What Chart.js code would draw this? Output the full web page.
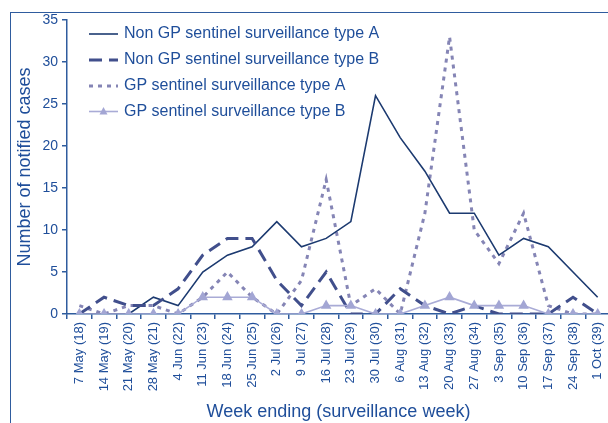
<!DOCTYPE html>
<html>
<head>
<meta charset="utf-8">
<script src="https://cdn.jsdelivr.net/npm/chart.js@4"></script>
<style>
  html, body { margin: 0; padding: 0; background: #fff; overflow: hidden; }
  #wrap { position: relative; width: 608px; height: 423px; overflow: hidden; }
  #frame { position: absolute; left: 10px; top: 12px; right: -2px; bottom: -2px;
           border-top: 1px solid #2f5c9e; border-left: 1px solid #2f5c9e; }
  canvas { position: absolute; left: 0; top: 0; }
</style>
</head>
<body>
<div id="wrap">
  <div id="frame"></div>
  <canvas id="chart" width="620" height="423"></canvas>
</div>
<script>
const weeks = ['7 May (18)', '14 May (19)', '21 May (20)', '28 May (21)', '4 Jun (22)', '11 Jun (23)',
  '18 Jun (24)', '25 Jun (25)', '2 Jul (26)', '9 Jul (27)', '16 Jul (28)', '23 Jul (29)', '30 Jul (30)',
  '6 Aug (31)', '13 Aug (32)', '20 Aug (33)', '27 Aug (34)', '3 Sep (35)', '10 Sep (36)', '17 Sep (37)',
  '24 Sep (38)', '1 Oct (39)'];

const nonGpA = [0, 0, 0, 2, 1, 5, 7, 8, 11, 8, 9, 11, 26, 21, 17, 12, 12, 7, 9, 8, 5, 2];
const nonGpB = [0, 2, 1, 1, 3, 7, 9, 9, 4, 1, 5, 0, 0, 3, 1, 0, 1, 0, 0, 0, 2, 0];
const gpA    = [1, 0, 1, 1, 0, 2, 5, 2, 0, 4, 16, 1, 3, 0, 12, 33, 10, 6, 12, 1, 0, 0];
const gpB    = [0, 0, 0, 0, 0, 2, 2, 2, 0, 0, 1, 1, 0, 0, 1, 2, 1, 1, 1, 0, 0, 0];

const yTicks = [0, 5, 10, 15, 20, 25, 30, 35];

const textBlue = '#1f4e9a';
const axisBlue = '#2f5c9e';
const font = 'Liberation Sans, Arial, sans-serif';

// legend drawn inside the plot, like the original
const insideLegend = {
  id: 'insideLegend',
  afterDraw(chart) {
    const ctx = chart.ctx;
    const rows = [34, 60, 86, 111.5];
    ctx.save();
    chart.data.datasets.forEach((ds, i) => {
      const y = rows[i];
      ctx.beginPath();
      ctx.setLineDash(ds.borderDash || []);
      ctx.lineWidth = ds.borderWidth;
      ctx.strokeStyle = ds.borderColor;
      ctx.moveTo(89, y);
      ctx.lineTo(118, y);
      ctx.stroke();
      ctx.setLineDash([]);
      if (ds.pointStyle === 'triangle') {
        ctx.fillStyle = ds.pointBackgroundColor;
        ctx.beginPath();
        ctx.moveTo(103.5, y - 4.5);
        ctx.lineTo(107.5, y + 3);
        ctx.lineTo(99.5, y + 3);
        ctx.closePath();
        ctx.fill();
      }
      ctx.fillStyle = textBlue;
      ctx.font = '16px ' + font;
      ctx.textBaseline = 'middle';
      ctx.fillText(ds.label, 124, y);
    });
    ctx.restore();
  }
};

new Chart(document.getElementById('chart'), {
  type: 'line',
  data: {
    labels: weeks,
    datasets: [
      {
        label: 'Non GP sentinel surveillance type A',
        data: nonGpA,
        borderColor: '#1c3a70',
        borderWidth: 1.6,
        pointRadius: 0,
        order: 3,
      },
      {
        label: 'Non GP sentinel surveillance type B',
        data: nonGpB,
        borderColor: '#414f8c',
        borderWidth: 3,
        borderDash: [13, 7],
        pointRadius: 0,
        order: 2,
      },
      {
        label: 'GP sentinel surveillance type A',
        data: gpA,
        borderColor: '#8585b5',
        borderWidth: 3,
        borderDash: [4, 5],
        pointRadius: 0,
        order: 4,
      },
      {
        label: 'GP sentinel surveillance type B',
        data: gpB,
        borderColor: '#a9abd6',
        borderWidth: 1.6,
        pointStyle: 'triangle',
        pointRadius: 4.5,
        pointBackgroundColor: '#a3a6d4',
        pointBorderColor: '#a3a6d4',
        order: 1,
      },
    ],
  },
  options: {
    responsive: false,
    animation: false,
    devicePixelRatio: 1,
    layout: { padding: { top: 20, right: 10, left: 0, bottom: 0 } },
    plugins: {
      legend: { display: false },
      tooltip: { enabled: false },
    },
    elements: { line: { tension: 0 } },
    scales: {
      x: {
        type: 'category',
        offset: true,
        afterFit: s => { s.height = 109; },
        border: { color: axisBlue, width: 1.5 },
        grid: { display: true, drawOnChartArea: false, offset: true, tickLength: 5, color: axisBlue, lineWidth: 1.5 },
        ticks: {
          color: textBlue,
          font: { family: font, size: 13 },
          maxRotation: 90,
          minRotation: 90,
          autoSkip: false,
          padding: 3,
        },
        title: {
          display: true,
          text: 'Week ending (surveillance week)',
          color: textBlue,
          font: { family: font, size: 18 },
          padding: { top: 0, bottom: 0 },
        },
      },
      y: {
        min: 0,
        max: 35,
        afterFit: s => { s.width = 67; },
        afterBuildTicks: s => { s.ticks = yTicks.map(v => ({ value: v })); },
        border: { color: axisBlue, width: 1.5 },
        grid: { display: true, drawOnChartArea: false, tickLength: 5, color: axisBlue, lineWidth: 1.5 },
        ticks: {
          color: textBlue,
          font: { family: font, size: 14 },
          padding: 4,
        },
        title: {
          display: true,
          text: 'Number of notified cases',
          color: textBlue,
          font: { family: font, size: 18 },
          padding: { top: 14, bottom: 0 },
        },
      },
    },
  },
  plugins: [insideLegend],
});
</script>
</body>
</html>
